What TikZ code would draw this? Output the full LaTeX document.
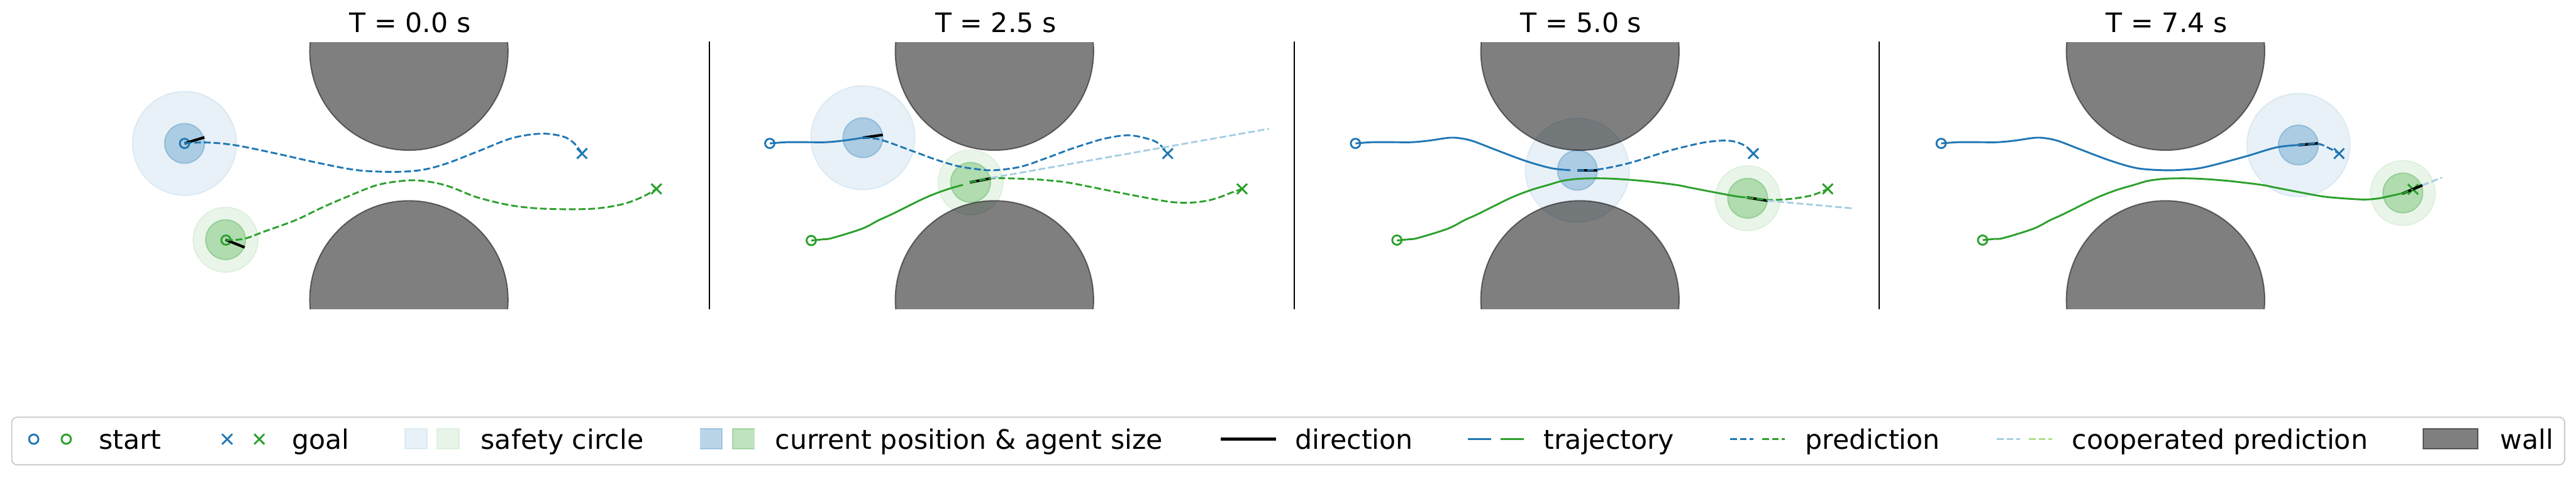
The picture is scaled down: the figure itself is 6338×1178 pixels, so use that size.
\documentclass[tikz,border=0pt]{standalone}
\usepackage{fontspec}
\setmainfont{DejaVu Sans}
\definecolor{tabblue}{HTML}{1F77B4}
\definecolor{tabgreen}{HTML}{2CA02C}
\definecolor{coopblue}{HTML}{A6CEE3}
\definecolor{coopgreen}{HTML}{B2DF8A}
\definecolor{legedge}{HTML}{CCCCCC}
\newcommand\goalx[2]{\draw[#1, line width=4.5pt] (#2) ++(-12.5,-12.5) -- ++(25,25) ++(-25,0) -- ++(25,-25);}
\newcommand\startmk[2]{\draw[#1, line width=4.5pt] (#2) circle (11.5);}
\tikzset{
  bigtext/.style={font=\fontsize{66}{80}\selectfont, inner sep=0pt},
  traj/.style={line width=4.5pt},
  pred/.style={line width=4.5pt, dash pattern=on 16.6pt off 7.2pt},
  coopline/.style={line width=4.5pt, dash pattern=on 16.6pt off 7.2pt, coopblue},
  dirline/.style={line width=6.5pt, black},
  safety/.style={opacity=0.1, line width=3pt},
  agentc/.style={opacity=0.3, line width=3pt},
  wallshape/.style={fill=black, draw=black, opacity=0.5, line width=3pt},
  sepline/.style={line width=3pt, black},
  sm/.style={smooth, tension=0.55}
}
\begin{document}
\begin{tikzpicture}[x=1pt, y=-1pt]
\useasboundingbox (0,0) rectangle (6338,1178);

% ---------- named points ----------
\coordinate (bs1) at (454,353);  \coordinate (gs1) at (556,591);
\coordinate (bg1) at (1432,378); \coordinate (gg1) at (1615,465);
\coordinate (bs2) at (1894,353); \coordinate (gs2) at (1996,592);
\coordinate (bg2) at (2873,378); \coordinate (gg2) at (3056,465);
\coordinate (bs3) at (3335,353); \coordinate (gs3) at (3437,591);
\coordinate (bg3) at (4314,378); \coordinate (gg3) at (4497,465);
\coordinate (bs4) at (4776,353); \coordinate (gs4) at (4878,591);
\coordinate (bg4) at (5755,378); \coordinate (gg4) at (5937,466);

\coordinate (ba1) at (454,353);  \coordinate (ga1) at (555,590);
\coordinate (ba2) at (2123,339); \coordinate (ga2) at (2388,449);
\coordinate (ba3) at (3881,419); \coordinate (ga3) at (4300,488);
\coordinate (ba4) at (5655,357); \coordinate (ga4) at (5912,475);

% ---------- circles ----------
\filldraw[safety, tabblue] (ba1) circle (128);
\filldraw[safety, tabgreen] (ga1) circle (80);
\filldraw[safety, tabblue] (ba2) circle (128);
\filldraw[safety, tabgreen] (ga2) circle (80);
\filldraw[safety, tabblue] (ba3) circle (128);
\filldraw[safety, tabgreen] (ga3) circle (80);
\filldraw[safety, tabblue] (ba4) circle (127);
\filldraw[safety, tabgreen] (ga4) circle (80);
\filldraw[agentc, tabblue] (ba1) circle (49);
\filldraw[agentc, tabgreen] (ga1) circle (49);
\filldraw[agentc, tabblue] (ba2) circle (49);
\filldraw[agentc, tabgreen] (ga2) circle (49);
\filldraw[agentc, tabblue] (ba3) circle (49);
\filldraw[agentc, tabgreen] (ga3) circle (49);
\filldraw[agentc, tabblue] (ba4) circle (49);
\filldraw[agentc, tabgreen] (ga4) circle (49);

% ---------- walls ----------
\foreach \cx in {1006, 2446.7, 3887.3, 5328}{
  \begin{scope}
    \clip (\cx-270,104) rectangle (\cx+270,760);
    \filldraw[wallshape] (\cx,126) circle (244);
    \filldraw[wallshape] (\cx,738) circle (244);
  \end{scope}
}

% ---------- separators ----------
\draw[sepline] (1745,102) -- (1745,761);
\draw[sepline] (3185,102) -- (3185,761);
\draw[sepline] (4624,102) -- (4624,761);

% ---------- titles ----------
\node[bigtext, anchor=base] (t1) at (1009,80) {T = 0.0 s};
\node[bigtext, anchor=base] (t2) at (2450,80) {T = 2.5 s};
\node[bigtext, anchor=base] (t3) at (3890,80) {T = 5.0 s};
\node[bigtext, anchor=base] (t4) at (5331,80) {T = 7.4 s};

% ---------- trajectories ----------
\draw[traj, tabblue] plot[sm] coordinates {(1894,353) (1936,350) (1986,350) (2033,350) (2076,346) (2123,339)};
\draw[traj, tabgreen] plot[sm] coordinates {(1996,592) (2026,589) (2047,586) (2121,563) (2162,542) (2195,527) (2274,488) (2325,468) (2369,455)};

\draw[traj, tabblue] plot[sm] coordinates {(3335,353) (3377,350) (3427,350) (3474,350) (3517,346) (3567,339) (3597,341) (3626,348) (3678,368) (3753,396) (3817,414) (3864,419)};
\draw[traj, tabgreen] plot[sm] coordinates {(3437,592) (3467,589) (3488,586) (3562,563) (3603,542) (3636,527) (3715,488) (3766,468) (3810,455) (3845,445) (3887,440) (3937,439) (3987,441) (4048,446) (4123,455) (4159,462) (4216,473) (4270,483) (4295,486)};

\draw[traj, tabblue] plot[sm] coordinates {(4776,353) (4818,350) (4868,350) (4915,350) (4958,346) (5008,339) (5038,341) (5067,348) (5119,368) (5194,396) (5258,414) (5322,419) (5368,418) (5422,412) (5522,386) (5600,363) (5655,357)};
\draw[traj, tabgreen] plot[sm] coordinates {(4878,591) (4908,588) (4929,586) (5003,563) (5044,542) (5077,527) (5156,488) (5207,468) (5251,455) (5286,445) (5328,440) (5378,439) (5428,441) (5489,446) (5564,455) (5600,462) (5657,473) (5711,483) (5748,487) (5811,491) (5848,489) (5878,483) (5910,476)};

% ---------- start / goal markers ----------
\startmk{tabblue}{bs1} \startmk{tabgreen}{gs1}
\startmk{tabblue}{bs2} \startmk{tabgreen}{gs2}
\startmk{tabblue}{bs3} \startmk{tabgreen}{gs3}
\startmk{tabblue}{bs4} \startmk{tabgreen}{gs4}
\goalx{tabblue}{bg1} \goalx{tabgreen}{gg1}
\goalx{tabblue}{bg2} \goalx{tabgreen}{gg2}
\goalx{tabblue}{bg3} \goalx{tabgreen}{gg3}
\goalx{tabblue}{bg4} \goalx{tabgreen}{gg4}

% ---------- directions ----------
\draw[dirline] (ba1) -- (503,338);
\draw[dirline] (ga1) -- (602,609);
\draw[dirline] (ba2) -- (2172,332);
\draw[dirline] (2386,449) -- (2438,439);
\draw[dirline] (ba3) -- (3931,419);
\draw[dirline] (4298,486) -- (4349,494);
\draw[dirline] (ba4) -- (5703,353);
\draw[dirline] (5910,477) -- (5960,456);

% ---------- predictions ----------
\draw[pred, tabblue] plot[sm] coordinates {(454,352) (515,351) (582,358) (680,378) (783,401) (880,419) (973,423) (1040,418) (1100,402) (1175,373) (1260,340) (1332,329) (1385,336) (1412,352) (1432,378)};
\draw[pred, tabgreen] plot[sm] coordinates {(556,591) (600,588) (650,570) (727,542) (790,512) (850,486) (930,455) (1007,444) (1060,448) (1108,460) (1175,486) (1260,506) (1343,514) (1455,514) (1530,503) (1580,485) (1615,465)};

\draw[pred, tabblue] plot[sm] coordinates {(2123,339) (2167,344) (2251,374) (2300,392) (2353,408) (2400,416) (2447,419) (2513,410) (2580,387) (2631,368) (2680,352) (2723,340) (2779,333) (2835,345) (2858,360) (2873,378)};
\draw[pred, tabgreen] plot[sm] coordinates {(2386,449) (2438,439) (2480,439) (2538,441) (2580,444) (2631,450) (2723,468) (2816,486) (2880,497) (2927,499) (2970,494) (3002,485) (3030,474) (3056,465)};

\draw[pred, tabblue] plot[sm] coordinates {(3881,419) (3933,417) (4010,401) (4100,373) (4150,360) (4197,350) (4240,346) (4270,349) (4295,360) (4314,378)};
\draw[pred, tabgreen] plot[sm] coordinates {(4298,486) (4349,492) (4401,490) (4457,481) (4497,465)};

\draw[pred, tabblue] plot[sm] coordinates {(5655,357) (5703,354) (5733,366) (5755,378)};
\draw[pred, tabgreen] (5910,477) -- (gg4);

% ---------- cooperated predictions ----------
\coordinate (ce2) at (3122,317);
\coordinate (ce3) at (4559,513);
\coordinate (ce4) at (6008,437);
\draw[coopline] (2438,438) -- (ce2);
\draw[coopline] (4349,494) -- (ce3);
\draw[coopline] (5960,456) -- (ce4);

% ---------- legend ----------
\draw[legedge, line width=3pt, rounded corners=13pt, fill=white] (29,1027) rectangle (6310,1144);
\coordinate (l1a) at (83,1081); \coordinate (l1b) at (163,1081);
\startmk{tabblue}{l1a} \startmk{tabgreen}{l1b}
\node[bigtext, anchor=base west] (lt1) at (243,1105) {start};
\coordinate (l2a) at (559,1081); \coordinate (l2b) at (638,1081);
\goalx{tabblue}{l2a} \goalx{tabgreen}{l2b}
\node[bigtext, anchor=base west] (lt2) at (718,1105) {goal};
\filldraw[safety, tabblue] (996,1056) rectangle (1050,1105);
\filldraw[safety, tabgreen] (1076,1056) rectangle (1129,1105);
\node[bigtext, anchor=base west] (lt3) at (1183,1105) {safety circle};
\filldraw[agentc, tabblue] (1723,1056) rectangle (1776,1105);
\filldraw[agentc, tabgreen] (1802,1056) rectangle (1856,1105);
\node[bigtext, anchor=base west] (lt4) at (1907,1105) {current position \& agent size};
\draw[line width=7pt, black] (3004,1081) -- (3139,1081);
\node[bigtext, anchor=base west] (lt5) at (3187,1105) {direction};
\draw[traj, tabblue] (3611,1081) -- (3668,1081);
\draw[traj, tabgreen] (3692,1081) -- (3749,1081);
\node[bigtext, anchor=base west] (lt6) at (3798,1105) {trajectory};
\draw[pred, tabblue] (4257,1081) -- (4314,1081);
\draw[pred, tabgreen] (4336,1081) -- (4391,1081);
\node[bigtext, anchor=base west] (lt7) at (4442,1105) {prediction};
\draw[pred, coopblue] (4913,1081) -- (4970,1081);
\draw[pred, coopgreen] (4992,1081) -- (5049,1081);
\node[bigtext, anchor=base west] (lt8) at (5098,1105) {cooperated prediction};
\filldraw[wallshape] (5962,1056) rectangle (6097,1105);
\node[bigtext, anchor=base west] (lt9) at (6151,1105) {wall};
\end{tikzpicture}
\end{document}
